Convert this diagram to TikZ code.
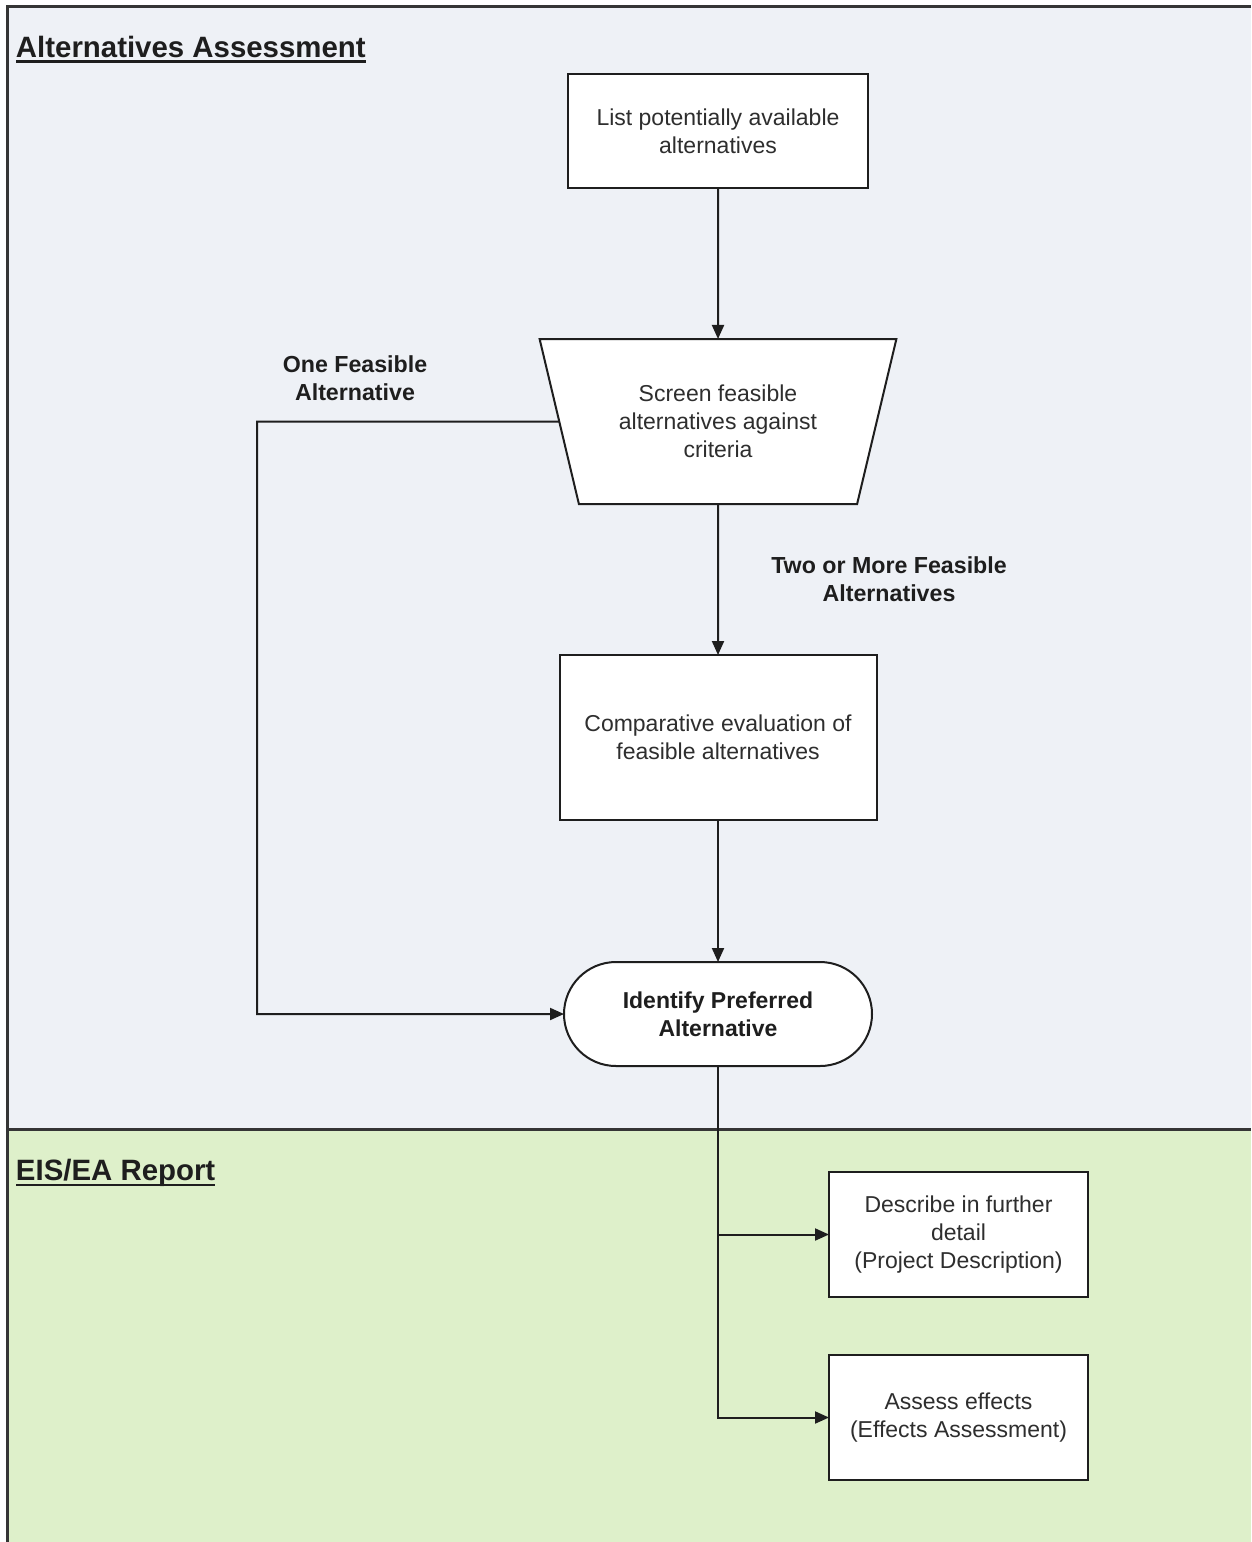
\documentclass[tikz,border=0pt]{standalone}
\usepackage{fontspec}
\setmainfont{Liberation Sans}
\usetikzlibrary{shapes.geometric,arrows.meta}
\definecolor{topbg}{HTML}{EEF1F6}
\definecolor{botbg}{HTML}{DEF0CA}
\definecolor{ink}{HTML}{1E1E1E}
\definecolor{txt}{HTML}{2E2E2E}
\begin{document}
\begin{tikzpicture}[x=1pt,y=-1pt,
  every node/.style={inner sep=0pt, outer sep=0pt},
  shapebox/.style={draw=ink, line width=2pt, fill=white, align=center, text=txt,
    font=\fontsize{23}{28}\selectfont},
  stepbox/.style={shapebox, rectangle},
  screen/.style={shapebox, trapezium, shape border rotate=180, trapezium stretches=true,
    trapezium left angle=69, trapezium right angle=69},
  termbox/.style={shapebox, rectangle, rounded corners=52pt, font=\fontsize{23}{28}\selectfont\bfseries, text=ink},
  lbl/.style={align=center, text=ink, font=\fontsize{23.2}{28}\selectfont\bfseries},
  lanetitle/.style={anchor=base west, text=ink, font=\fontsize{29.4}{34}\selectfont\bfseries},
  conn/.style={draw=ink, line width=2pt},
  arr/.style={conn, -{Triangle[length=14pt,width=12pt]}},
  frame/.style={draw=ink!90, line width=3pt}
]
\useasboundingbox (0,0) rectangle (1251,1542);
\fill[white] (0,0) rectangle (1251,1542);
\fill[topbg] (7,6) rectangle (1251,1129);
\fill[botbg] (7,1129) rectangle (1251,1542);
\draw[frame] (7,1542) -- (7,6) -- (1251,6);
\draw[frame] (7,1129) -- (1251,1129);

% lane titles
\node[lanetitle] (t1) at (16,57) {Alternatives Assessment};
\draw[draw=ink, line width=2.5pt] ([yshift=-4.5pt]t1.base west) -- ([yshift=-4.5pt]t1.base east);
\node[lanetitle] (t2) at (16,1180) {EIS/EA Report};
\draw[draw=ink, line width=2.5pt] ([yshift=-5pt]t2.base west) -- ([yshift=-5pt]t2.base east);

% nodes
\node[stepbox, minimum width=300pt, minimum height=114pt] (list) at (718,131)
  {List potentially available\\alternatives};
\node[screen, minimum width=358pt, minimum height=165pt] (screen) at (718,421.5)
  {Screen feasible\\alternatives against\\criteria};
\node[stepbox, minimum width=317pt, minimum height=165pt] (comp) at (718,737.5)
  {Comparative evaluation of\\feasible alternatives};
\node[termbox, minimum width=308pt, minimum height=104pt] (pref) at (718,1014)
  {Identify Preferred\\Alternative};
\node[stepbox, minimum width=259pt, minimum height=125pt] (desc) at (958.5,1234.5)
  {Describe in further\\detail\\(Project Description)};
\node[stepbox, minimum width=259pt, minimum height=125pt] (assess) at (958.5,1417.5)
  {Assess effects\\(Effects Assessment)};

% labels
\node[lbl] (one) at (355,378) {One Feasible\\Alternative};
\node[lbl] (two) at (889,579) {Two or More Feasible\\Alternatives};

% connectors
\coordinate (lx) at (257,421.5);
\draw[arr] (list) -- (screen);
\draw[arr] (screen) -- (comp);
\draw[arr] (comp) -- (pref);
\draw[arr] (screen.180) -- (lx) |- (pref.west);
\draw[arr] (pref.south) |- (desc.west);
\draw[arr] (pref.south) |- (assess.west);
\end{tikzpicture}
\end{document}
